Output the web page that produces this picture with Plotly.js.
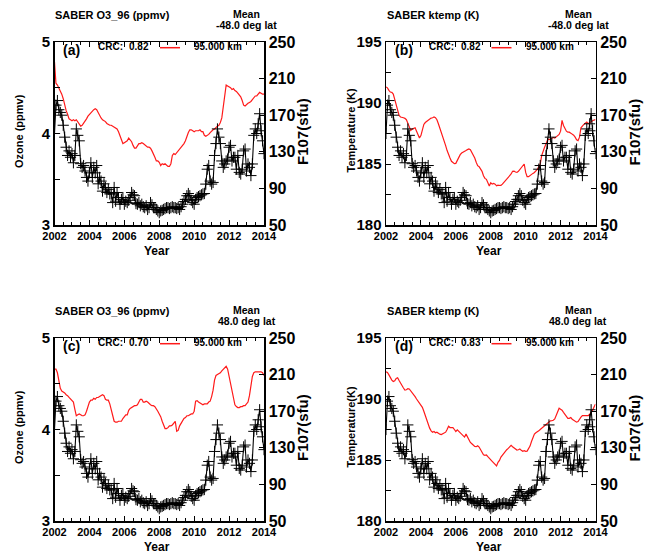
<!DOCTYPE html>
<html>
<head>
<meta charset="utf-8">
<script src="https://cdn.plot.ly/plotly-3.0.1.min.js"></script>
<style>html,body{margin:0;padding:0;background:#fff;}#chart{width:648px;height:553px;}</style>
</head>
<body>
<div id="chart"></div>
<script>
// Monthly samples, Jan 2002 .. Jan 2014
const startYear = 2002;
const nMonths = 145;

// F10.7 solar flux (sfu), black "+" curve, same in all panels
const f107 = [
150,181,186,176,173,170,159,146,135,126,131,124,
128,118,126,155,148,142,117,113,115,109,102,98,
107,118,102,113,107,115,95,102,98,87,95,91,
85.5,89,84,84,74.5,91,76,85.5,80,72.7,78,80,
72.7,76,74.5,77,80,85.5,83,82,73.4,72.7,74.5,71,
72.7,70,69,71,67,69,74.5,72,69,69,67,65.4,
63.5,65.4,66,67,68,69,69,68,69,70,69,69,
68,69,67,70,72.7,75.6,78,82,84.4,82,77,74.5,
72.7,78,80,81,82,83,84,84.4,94.7,111,115,98,
94.7,96.5,126,139,155,146,139,120,113,116.7,120,122,
135,137,120,124,124,111,126,107.5,105.7,111,131,133,
109,116.7,113,104,116.7,148,155,150,160.6,171.6,153,142,
128];

// (a) SABER O3_96 (ppmv), -48.0 deg lat, 95 km
const o3South = [
4.78,4.55,4.53,4.50,4.47,4.43,4.38,4.31,4.25,4.21,4.16,4.15,
4.14,4.15,4.14,4.15,4.13,4.11,4.08,4.09,4.11,4.14,4.16,4.19,
4.21,4.23,4.25,4.26,4.27,4.26,4.23,4.19,4.17,4.15,4.14,4.13,
4.11,4.10,4.09,4.09,4.08,4.07,4.06,4.05,4.02,3.97,3.92,3.89,
3.90,3.91,3.92,3.95,3.93,3.91,3.87,3.84,3.84,3.87,3.89,3.89,
3.90,3.89,3.875,3.865,3.85,3.85,3.84,3.81,3.78,3.74,3.70,3.70,
3.685,3.65,3.67,3.66,3.67,3.65,3.64,3.64,3.67,3.76,3.78,3.77,
3.79,3.81,3.83,3.84,3.86,3.89,3.92,3.97,4.01,4.04,4.04,4.03,
4.02,4.03,4.03,4.03,4.04,4.02,4.02,3.98,3.97,3.98,3.99,4.01,
4.03,4.04,4.05,4.07,4.08,4.09,4.12,4.17,4.29,4.47,4.53,4.52,
4.51,4.50,4.48,4.49,4.47,4.46,4.44,4.42,4.40,4.36,4.31,4.30,
4.32,4.33,4.34,4.35,4.37,4.39,4.41,4.41,4.43,4.45,4.44,4.43,
4.43];

// (b) SABER ktemp (K), -48.0 deg lat, 95 km
const tSouth = [
191.32,191.24,191.04,190.9,190.87,190.74,190.3,189.8,189.34,188.98,188.85,188.79,
188.79,188.74,188.63,188.35,187.97,187.75,187.86,187.94,187.97,187.69,187.42,187.14,
187.33,187.69,188.24,188.4,188.5,188.63,188.68,188.76,188.79,188.85,188.79,188.63,
188.3,187.97,187.58,187.25,186.92,186.51,186.1,185.74,185.49,185.22,185.08,185.03,
185.05,185.33,185.6,185.77,185.9,185.96,185.99,186.1,186.18,186.24,186.18,185.96,
185.69,185.49,185.14,184.86,184.78,184.62,184.4,184.04,183.82,183.74,183.49,183.19,
183.46,183.35,183.41,183.35,183.21,183.27,183.24,183.24,183.35,183.49,183.6,183.74,
183.85,183.96,184.18,184.4,184.42,184.34,184.31,184.4,184.56,184.73,184.86,185.0,
184.31,183.96,183.96,184.07,184.18,184.23,184.31,184.4,184.56,184.78,185.0,185.69,
186.1,186.37,186.65,186.98,187.03,187.0,187.12,187.17,187.12,187.25,187.34,187.42,
187.69,188.57,188.16,187.88,187.69,187.61,187.61,187.53,187.47,187.36,187.2,186.98,
186.92,187.2,187.97,188.16,188.24,188.35,188.43,188.3,188.4,188.49,188.54,188.6,
188.65];

// (c) SABER O3_96 (ppmv), 48.0 deg lat, 95 km
const o3North = [
4.66,4.66,4.62,4.54,4.45,4.42,4.41,4.40,4.38,4.37,4.35,4.33,
4.32,4.30,4.22,4.15,4.16,4.17,4.16,4.15,4.15,4.16,4.20,4.25,
4.30,4.32,4.32,4.34,4.33,4.35,4.35,4.36,4.37,4.38,4.37,4.33,
4.32,4.32,4.28,4.21,4.15,4.09,4.08,4.08,4.09,4.09,4.09,4.12,
4.14,4.16,4.16,4.21,4.23,4.24,4.25,4.26,4.26,4.27,4.30,4.33,
4.33,4.30,4.30,4.31,4.30,4.28,4.27,4.26,4.26,4.25,4.23,4.20,
4.17,4.14,4.09,4.05,4.01,4.01,4.02,4.04,4.04,4.05,4.07,4.09,
3.98,3.99,4.04,4.07,4.10,4.12,4.13,4.15,4.15,4.16,4.17,4.17,
4.20,4.31,4.315,4.30,4.29,4.28,4.27,4.28,4.28,4.28,4.30,4.31,
4.36,4.43,4.54,4.59,4.60,4.61,4.62,4.64,4.66,4.68,4.69,4.66,
4.58,4.51,4.44,4.33,4.27,4.25,4.24,4.24,4.25,4.25,4.26,4.26,
4.28,4.30,4.37,4.48,4.58,4.62,4.63,4.63,4.63,4.63,4.63,4.62,
4.59];

// (d) SABER ktemp (K), 48.0 deg lat, 95 km
const tNorth = [
192.23,192.17,191.98,191.74,191.55,191.44,191.49,191.68,191.74,191.52,191.25,191.11,
190.9,190.73,190.76,190.84,190.82,190.68,190.52,190.33,190.19,190.0,189.81,189.67,
189.46,189.32,189.0,188.64,188.23,187.88,187.61,187.39,187.28,187.34,187.23,187.28,
187.17,187.12,187.09,187.15,187.23,187.28,187.5,187.77,187.66,187.66,187.66,187.5,
187.34,187.47,187.34,187.26,187.15,186.98,186.88,187.12,186.85,186.58,186.44,186.33,
186.22,186.11,186.09,186.17,186.06,185.84,185.6,185.43,185.38,185.41,185.27,185.11,
185.0,184.89,184.76,184.62,184.51,184.81,184.97,185.24,185.41,185.6,185.71,185.84,
185.95,186.06,186.2,186.09,185.98,185.87,185.82,185.84,185.9,185.79,185.71,185.76,
185.71,185.73,185.92,186.14,186.52,186.88,187.12,187.23,187.28,187.39,187.5,187.61,
187.72,187.83,187.88,188.02,188.13,188.21,188.23,188.26,188.37,188.64,189.05,189.24,
189.16,189.08,188.91,188.75,188.64,188.42,188.42,188.48,188.34,188.26,188.15,188.1,
188.15,188.37,188.51,188.64,188.64,188.61,188.59,188.64,188.75,188.89,189.08,189.35,
189.59];

const yearTicks = [2002, 2004, 2006, 2008, 2010, 2012, 2014];
const f107Ticks = [50, 90, 130, 170, 210, 250];
const o3Ticks = [3, 3.5, 4, 4.5, 5];
const o3TickText = ['3', '', '4', '', '5'];
const tTicks = [180, 182.5, 185, 187.5, 190, 192.5, 195];
const tTickText = ['180', '', '185', '', '190', '', '195'];

const panels = [
  {tag: '(a)', title: 'SABER O3_96 (ppmv)', lat: '-48.0 deg lat', crc: '0.82', ylab: 'Ozone (ppmv)',
   data: o3South, range: [3, 5], tv: o3Ticks, tt: o3TickText, col: 0, row: 0},
  {tag: '(b)', title: 'SABER ktemp (K)', lat: '-48.0 deg lat', crc: '0.82', ylab: 'Temperature (K)',
   data: tSouth, range: [180, 195], tv: tTicks, tt: tTickText, col: 1, row: 0},
  {tag: '(c)', title: 'SABER O3_96 (ppmv)', lat: '48.0 deg lat', crc: '0.70', ylab: 'Ozone (ppmv)',
   data: o3North, range: [3, 5], tv: o3Ticks, tt: o3TickText, col: 0, row: 1},
  {tag: '(d)', title: 'SABER ktemp (K)', lat: '48.0 deg lat', crc: '0.83', ylab: 'Temperature(K)',
   data: tNorth, range: [180, 195], tv: tTicks, tt: tTickText, col: 1, row: 1}
];

const W = 648, H = 553;
const FAM = 'Liberation Sans, Arial, Helvetica, sans-serif';
const months = Array.from({length: nMonths}, (_, i) => startYear + i / 12);

// pixel geometry of panel (a); others are offset
const PX0 = 54.5, PX1 = 264, PY0 = 42, PY1 = 225;
const DX = 331.5, DY = 296;

const px = v => v / W;
const py = v => 1 - v / H;

const traces = [];
const layout = {
  width: W, height: H,
  margin: {l: 0, r: 0, t: 0, b: 0},
  paper_bgcolor: '#fff', plot_bgcolor: '#fff',
  showlegend: false,
  font: {family: FAM, color: '#000'},
  annotations: [], shapes: []
};

function ann(text, x, y, size, opts) {
  return Object.assign({
    text: text, x: px(x), y: py(y), xref: 'paper', yref: 'paper',
    showarrow: false, xanchor: 'left', yanchor: 'middle', borderpad: 0,
    font: {family: FAM, size: size, color: '#000', weight: 'bold'}
  }, opts || {});
}

panels.forEach((p, k) => {
  const ox = p.col * DX, oy = p.row * DY;
  const xi = k + 1, yl = 2 * k + 1, yr = 2 * k + 2;
  const xn = 'x' + (xi === 1 ? '' : xi);
  const yln = 'y' + (yl === 1 ? '' : yl);
  const yrn = 'y' + yr;

  const xd = [px(PX0 + ox), px(PX1 + ox)];
  const yd = [py(PY1 + oy), py(PY0 + oy)];

  layout['xaxis' + (xi === 1 ? '' : xi)] = {
    domain: xd, anchor: yln, range: [2002, 2014],
    tickmode: 'array', tickvals: yearTicks, ticktext: yearTicks.map(String),
    ticks: 'inside', ticklen: 5, tickwidth: 1, tickcolor: '#000',
    minor: {tickmode: 'linear', tick0: 2002, dtick: 0.5, ticks: 'inside', ticklen: 3, tickcolor: '#000', showgrid: false},
    showline: true, linecolor: '#000', linewidth: 1.5, mirror: 'ticks',
    showgrid: false, zeroline: false, fixedrange: true,
    tickfont: {family: FAM, size: 11, color: '#000', weight: 'bold'}
  };
  layout['yaxis' + (yl === 1 ? '' : yl)] = {
    domain: yd, anchor: xn, range: p.range,
    tickmode: 'array', tickvals: p.tv, ticktext: p.tt,
    ticks: 'inside', ticklen: 5, tickwidth: 1, tickcolor: '#000',
    showline: true, linecolor: '#000', linewidth: 1.5,
    showgrid: false, zeroline: false, fixedrange: true,
    tickfont: {family: FAM, size: 15, color: '#000', weight: 'bold'}
  };
  layout['yaxis' + yr] = {
    overlaying: yln, side: 'right', anchor: xn, range: [50, 250],
    tickmode: 'array', tickvals: f107Ticks, ticktext: f107Ticks.map(String),
    ticks: 'inside', ticklen: 5, tickwidth: 1, tickcolor: '#000',
    showline: true, linecolor: '#000', linewidth: 1.5,
    showgrid: false, zeroline: false, fixedrange: true,
    tickfont: {family: FAM, size: 16, color: '#000', weight: 'bold'}
  };

  traces.push({
    type: 'scatter', mode: 'lines', x: months, y: p.data,
    xaxis: xn, yaxis: yln,
    line: {color: '#ff1a1a', width: 1.2}, hoverinfo: 'skip'
  });
  traces.push({
    type: 'scatter', mode: 'lines+markers', x: months, y: f107,
    xaxis: xn, yaxis: yrn,
    line: {color: '#000', width: 1.1},
    marker: {symbol: 'cross-thin', size: 8, color: '#000', line: {color: '#000', width: 1}},
    hoverinfo: 'skip'
  });

  const A = layout.annotations;
  A.push(ann(p.title, 54 + ox, 15 + oy, 11));
  A.push(ann('Mean', 246.5 + ox, 14 + oy, 10.5, {xanchor: 'center'}));
  A.push(ann(p.lat, 246.5 + ox, 25 + oy, 10.5, {xanchor: 'center'}));
  A.push(ann(p.tag, 62 + ox, 50 + oy, 14));
  A.push(ann('CRC:', 96.5 + ox, 46 + oy, 10));
  A.push(ann(p.crc, 128 + ox, 46 + oy, 10));
  A.push(ann('95.000 km', 193 + ox, 46.5 + oy, 10));
  A.push(ann(p.ylab, 19 + ox, 131 + oy, 11, {xanchor: 'center', textangle: -90}));
  A.push(ann('F107(sfu)', 302 + ox, 132 + oy, 15, {xanchor: 'center', textangle: -90}));
  A.push(ann('Year', 157 + ox, 251 + oy, 12, {xanchor: 'center'}));

  layout.shapes.push({
    type: 'line', xref: 'paper', yref: 'paper',
    x0: px(160 + ox), x1: px(180 + ox), y0: py(47.7 + oy), y1: py(47.7 + oy),
    line: {color: '#ff1a1a', width: 1.5}
  });
});

Plotly.newPlot('chart', traces, layout, {staticPlot: true, displayModeBar: false});
</script>
</body>
</html>
